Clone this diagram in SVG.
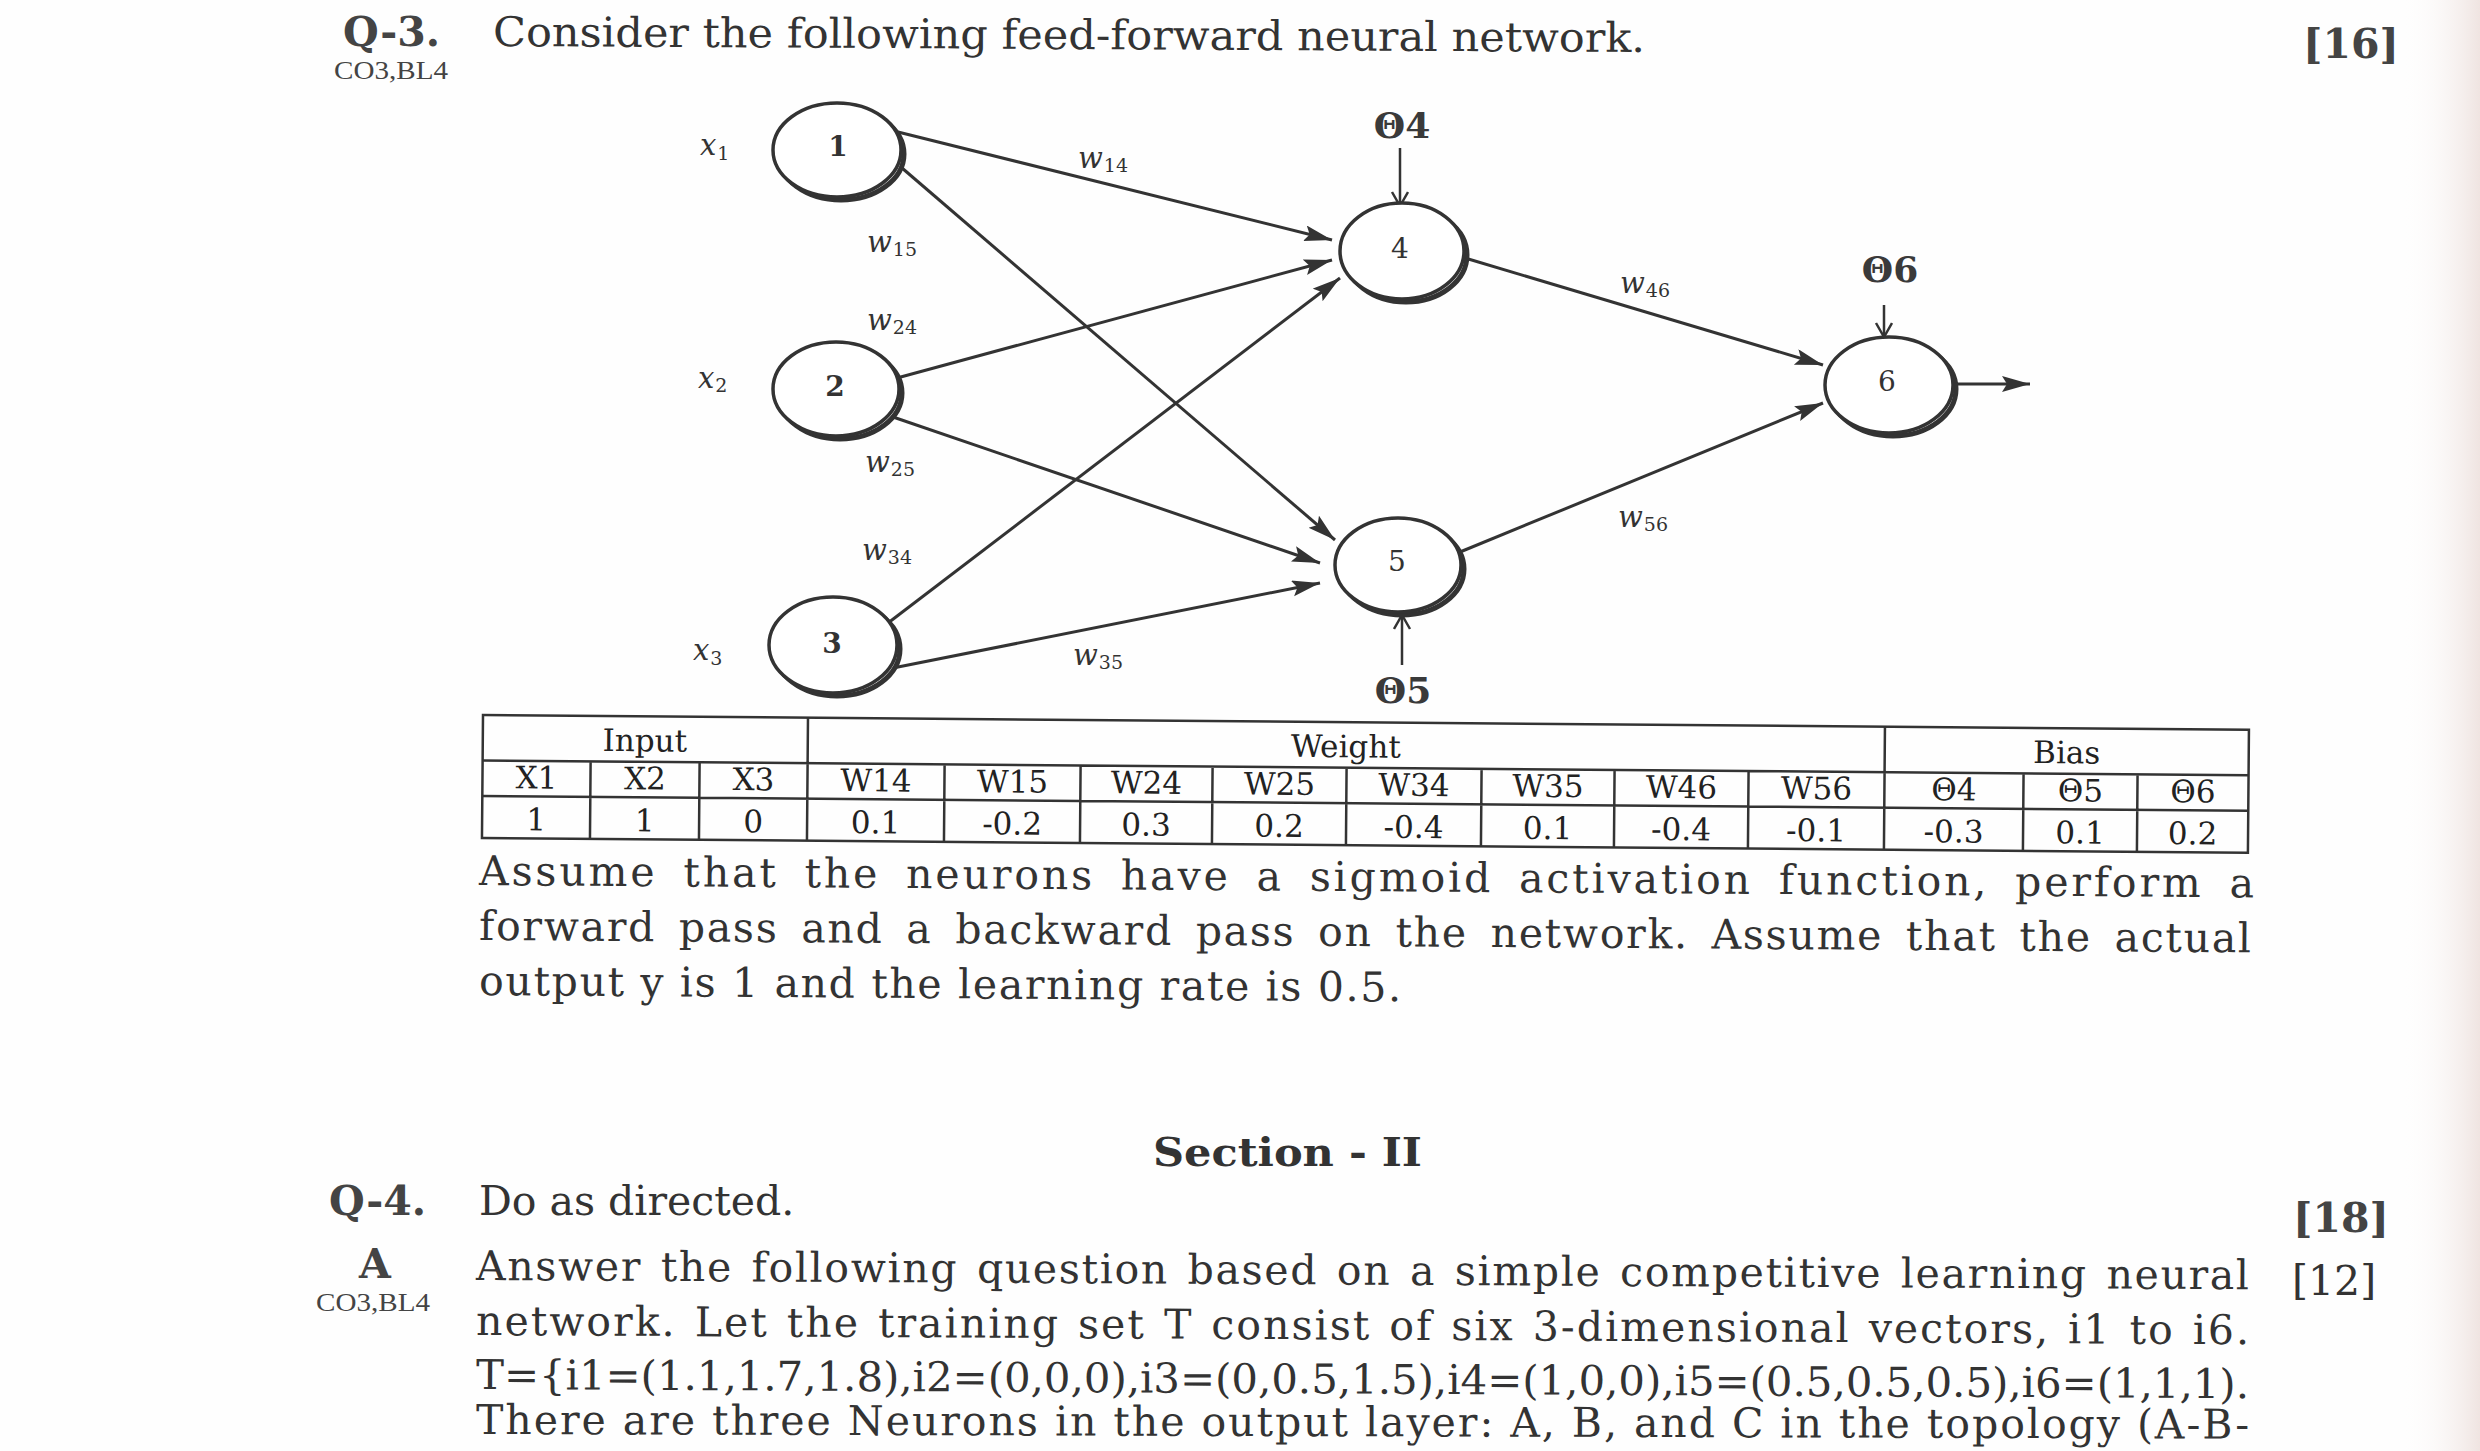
<svg xmlns="http://www.w3.org/2000/svg" width="2480" height="1451" viewBox="0 0 2480 1451">
<defs>
<style>
.t{font-family:"DejaVu Serif","Liberation Serif",serif;fill:#333}
.b{font-weight:bold}
.hd{font-size:41px;fill:#444}
.body{font-size:41px}
.co{font-family:"Liberation Serif",serif;font-size:26px;fill:#444}
.lab{font-family:"DejaVu Serif","Liberation Serif",serif;font-style:italic;font-size:29px;fill:#333}
.sub{font-size:19px;font-style:normal}
.th{font-family:"DejaVu Serif","Liberation Serif",serif;font-weight:bold;font-size:36px;fill:#3a3a3a;text-anchor:middle}
.nn{font-size:28px;text-anchor:middle}
.tb{font-family:"DejaVu Serif","Liberation Serif",serif;font-size:31px;fill:#222;text-anchor:middle}
.e{stroke:#333;stroke-width:3;fill:none;marker-end:url(#ah)}
.ba{stroke:#333;stroke-width:2.5;fill:none;marker-end:url(#oa)}
.nd{fill:#fff;stroke:#333;stroke-width:3.5}
.sh{fill:none;stroke:#333;stroke-width:5}
.tl{stroke:#333;stroke-width:2.5;fill:none}
</style>
<marker id="ah" markerUnits="userSpaceOnUse" markerWidth="30" markerHeight="18" viewBox="0 0 30 18" refX="28" refY="8" orient="auto">
<path d="M0,0 L28,8 L0,16 L5,8 z" fill="#333"/>
</marker>
<marker id="oa" markerUnits="userSpaceOnUse" markerWidth="20" markerHeight="20" viewBox="0 0 20 20" refX="15" refY="9" orient="auto">
<path d="M1,1 L15,9 L1,17" fill="none" stroke="#333" stroke-width="2.5"/>
</marker>
<linearGradient id="edge" x1="0" y1="0" x2="1" y2="0">
<stop offset="0" stop-color="#ffffff" stop-opacity="0"/>
<stop offset="1" stop-color="#efe4e1"/>
</linearGradient>
</defs>

<rect x="0" y="0" width="2480" height="1451" fill="#fefefe"/>
<rect x="2400" y="0" width="80" height="1451" fill="url(#edge)"/>

<!-- Heading Q-3 -->
<g id="q3-heading">
<text class="t b hd" x="343" y="46">Q-3.</text>
<text class="co" x="334" y="79" textLength="114" lengthAdjust="spacingAndGlyphs">CO3,BL4</text>
<text class="t body" x="493" y="46" textLength="1152" lengthAdjust="spacingAndGlyphs" transform="rotate(0.3 493 46)">Consider the following feed-forward neural network.</text>
<text class="t b hd" x="2303" y="58">[16]</text>
</g>

<!-- Connectors -->
<g id="connectors">
<path class="e" d="M898,132 L1332,240"/>
<path class="e" d="M902,168 L1335,540"/>
<path class="e" d="M897,378 L1332,260"/>
<path class="e" d="M893,417 L1320,563"/>
<path class="e" d="M888,623 L1340,278"/>
<path class="e" d="M893,668 L1320,583"/>
<path class="e" d="M1465,258 L1823,365"/>
<path class="e" d="M1460,552 L1823,403"/>
<path class="e" d="M1953,384 L2030,384"/>
<path class="ba" d="M1400,148 L1400,206"/>
<path class="ba" d="M1402,665 L1402,615"/>
<path class="ba" d="M1884,305 L1884,337"/>
<text class="lab" x="1078" y="168">w<tspan class="sub" dx="1" dy="4">14</tspan></text>
<text class="lab" x="867" y="252">w<tspan class="sub" dx="1" dy="4">15</tspan></text>
<text class="lab" x="867" y="330">w<tspan class="sub" dx="1" dy="4">24</tspan></text>
<text class="lab" x="865" y="472">w<tspan class="sub" dx="1" dy="4">25</tspan></text>
<text class="lab" x="862" y="560">w<tspan class="sub" dx="1" dy="4">34</tspan></text>
<text class="lab" x="1073" y="665">w<tspan class="sub" dx="1" dy="4">35</tspan></text>
<text class="lab" x="1620" y="293">w<tspan class="sub" dx="1" dy="4">46</tspan></text>
<text class="lab" x="1618" y="527">w<tspan class="sub" dx="1" dy="4">56</tspan></text>
<text class="th" x="1402" y="138">Θ4</text>
<text class="th" x="1403" y="703">Θ5</text>
<text class="th" x="1890" y="282">Θ6</text>
</g>

<!-- Nodes -->
<g id="node-1">
<ellipse class="sh" cx="841" cy="154" rx="63" ry="46"/>
<ellipse class="nd" cx="837" cy="150" rx="64" ry="47"/>
<text class="t nn b" x="838" y="156">1</text>
<text class="lab" x="700" y="155">x<tspan class="sub" dx="1" dy="5">1</tspan></text>
</g>
<g id="node-2">
<ellipse class="sh" cx="840" cy="393" rx="62" ry="46"/>
<ellipse class="nd" cx="836" cy="389" rx="63" ry="47"/>
<text class="t nn b" x="835" y="396">2</text>
<text class="lab" x="698" y="388">x<tspan class="sub" dx="1" dy="4">2</tspan></text>
</g>
<g id="node-3">
<ellipse class="sh" cx="837" cy="649" rx="63" ry="47"/>
<ellipse class="nd" cx="833" cy="645" rx="64" ry="48"/>
<text class="t nn b" x="832" y="653">3</text>
<text class="lab" x="693" y="660">x<tspan class="sub" dx="1" dy="5">3</tspan></text>
</g>
<g id="node-4">
<ellipse class="sh" cx="1406" cy="255" rx="61" ry="47"/>
<ellipse class="nd" cx="1402" cy="251" rx="62" ry="48"/>
<text class="t nn" x="1400" y="258">4</text>
</g>
<g id="node-5">
<ellipse class="sh" cx="1402" cy="569" rx="62" ry="46"/>
<ellipse class="nd" cx="1398" cy="565" rx="63" ry="47"/>
<text class="t nn" x="1397" y="571">5</text>
</g>
<g id="node-6">
<ellipse class="sh" cx="1893" cy="389" rx="63" ry="47"/>
<ellipse class="nd" cx="1889" cy="385" rx="64" ry="48"/>
<text class="t nn" x="1887" y="391">6</text>
</g>

<!-- Table -->
<g id="table" transform="rotate(0.48 483 715)">
<rect class="tl" x="483" y="715" width="1766" height="123"/>
<path class="tl" d="M483,760.5 H2249 M483,796 H2249 M808,715 V838 M1885,715 V838
M591,760.5 V838 M700,760.5 V838 M945,760.5 V838 M1081,760.5 V838 M1213,760.5 V838 M1347,760.5 V838
M1482,760.5 V838 M1615,760.5 V838 M1749,760.5 V838 M2024,760.5 V838 M2138,760.5 V838"/>
<text class="tb" x="645" y="750">Input</text>
<text class="tb" x="1346" y="750">Weight</text>
<text class="tb" x="2067" y="750">Bias</text>
<text class="tb" x="537" y="788">X1</text>
<text class="tb" x="645.5" y="788">X2</text>
<text class="tb" x="754" y="788">X3</text>
<text class="tb" x="876.5" y="788">W14</text>
<text class="tb" x="1013" y="788">W15</text>
<text class="tb" x="1147" y="788">W24</text>
<text class="tb" x="1280" y="788">W25</text>
<text class="tb" x="1414.5" y="788">W34</text>
<text class="tb" x="1548.5" y="788">W35</text>
<text class="tb" x="1682" y="788">W46</text>
<text class="tb" x="1817" y="788">W56</text>
<text class="tb" x="1954.5" y="788">Θ4</text>
<text class="tb" x="2081" y="788">Θ5</text>
<text class="tb" x="2193.5" y="788">Θ6</text>
<text class="tb" x="537" y="830">1</text>
<text class="tb" x="645.5" y="830">1</text>
<text class="tb" x="754" y="830">0</text>
<text class="tb" x="876.5" y="830">0.1</text>
<text class="tb" x="1013" y="830">-0.2</text>
<text class="tb" x="1147" y="830">0.3</text>
<text class="tb" x="1280" y="830">0.2</text>
<text class="tb" x="1414.5" y="830">-0.4</text>
<text class="tb" x="1548.5" y="830">0.1</text>
<text class="tb" x="1682" y="830">-0.4</text>
<text class="tb" x="1817" y="830">-0.1</text>
<text class="tb" x="1954.5" y="830">-0.3</text>
<text class="tb" x="2081" y="830">0.1</text>
<text class="tb" x="2193.5" y="830">0.2</text>
</g>

<!-- Q-3 body text -->
<g id="q3-body">
<text class="t body" x="479" y="885" textLength="1775" lengthAdjust="spacing" word-spacing="10" transform="rotate(0.4 479 885)">Assume that the neurons have a sigmoid activation function, perform a</text>
<text class="t body" x="479" y="940" textLength="1772" lengthAdjust="spacing" word-spacing="8" transform="rotate(0.4 479 940)">forward pass and a backward pass on the network. Assume that the actual</text>
<text class="t body" x="479" y="995" textLength="922" lengthAdjust="spacing" transform="rotate(0.4 479 995)">output y is 1 and the learning rate is 0.5.</text>
</g>

<!-- Section II -->
<g id="section-2">
<text class="t b" font-size="40" x="1153" y="1166" textLength="269" lengthAdjust="spacingAndGlyphs">Section - II</text>
<text class="t b hd" x="329" y="1215">Q-4.</text>
<text class="t body" x="479" y="1215">Do as directed.</text>
<text class="t b hd" x="2293" y="1232">[18]</text>
<text class="t b hd" x="359" y="1278">A</text>
<text class="co" x="316" y="1311" textLength="114" lengthAdjust="spacingAndGlyphs">CO3,BL4</text>
<text class="t body" x="2292" y="1295">[12]</text>
<text class="t body" x="476" y="1280" textLength="1773" lengthAdjust="spacing" word-spacing="4" transform="rotate(0.3 476 1280)">Answer the following question based on a simple competitive learning neural</text>
<text class="t body" x="476" y="1335" textLength="1773" lengthAdjust="spacing" word-spacing="3" transform="rotate(0.3 476 1335)">network. Let the training set T consist of six 3-dimensional vectors, i1 to i6.</text>
<text class="t body" x="476" y="1389" textLength="1773" lengthAdjust="spacingAndGlyphs" transform="rotate(0.3 476 1389)">T={i1=(1.1,1.7,1.8),i2=(0,0,0),i3=(0,0.5,1.5),i4=(1,0,0),i5=(0.5,0.5,0.5),i6=(1,1,1).</text>
<text class="t body" x="476" y="1434" textLength="1773" lengthAdjust="spacing" transform="rotate(0.15 476 1434)">There are three Neurons in the output layer: A, B, and C in the topology (A-B-</text>
</g>
</svg>
